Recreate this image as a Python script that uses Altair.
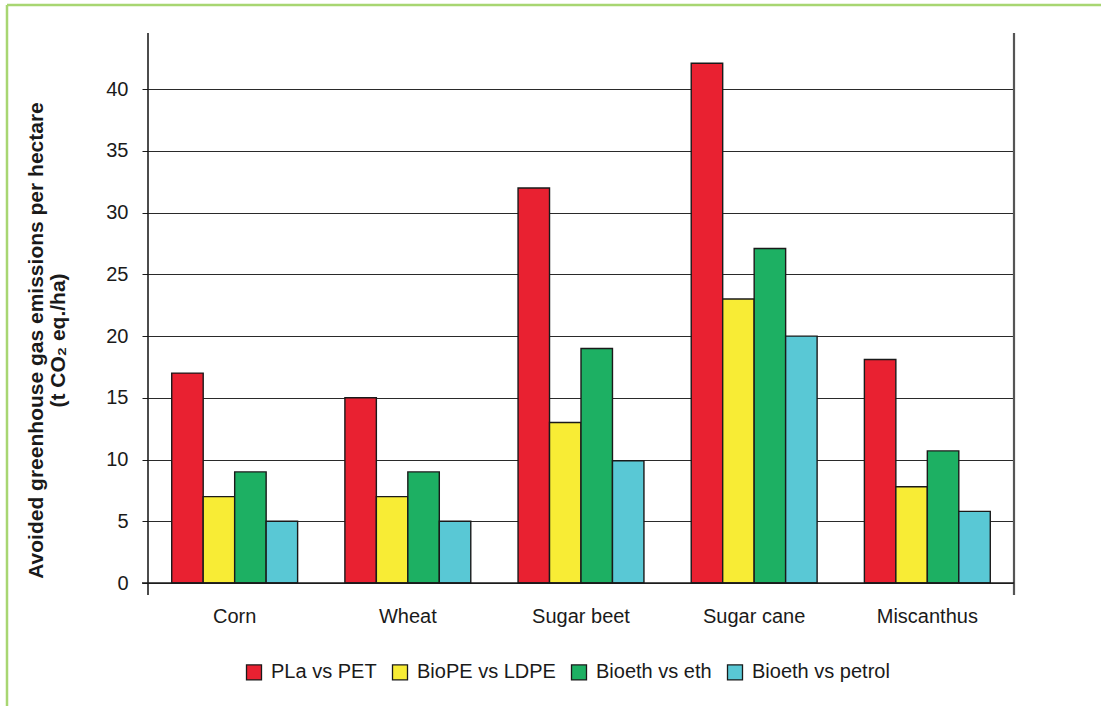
import altair as alt
import pandas as pd

# Avoided greenhouse gas emissions per hectare, by crop and substitution
categories = ["Corn", "Wheat", "Sugar beet", "Sugar cane", "Miscanthus"]
series = ["PLa vs PET", "BioPE vs LDPE", "Bioeth vs eth", "Bioeth vs petrol"]
pla_vs_pet = [17, 15, 32, 42.1, 18.1]
biope_vs_ldpe = [7, 7, 13, 23, 7.8]
bioeth_vs_eth = [9, 9, 19, 27.1, 10.7]
bioeth_vs_petrol = [5, 5, 9.9, 20, 5.8]
colors = ["#e92131", "#f8ec35", "#1db063", "#59c8d5"]
y_ticks = [0, 5, 10, 15, 20, 25, 30, 35, 40]

rows = []
for s, vals in zip(series, [pla_vs_pet, biope_vs_ldpe, bioeth_vs_eth, bioeth_vs_petrol]):
    for c, v in zip(categories, vals):
        rows.append({"crop": c, "comparison": s, "value": v})
df = pd.DataFrame(rows)

W, H = 866, 550
FONT = "Liberation Sans"
one = pd.DataFrame({"k": [0]})

bars = alt.Chart(df).mark_bar(stroke="#1a1a1a", strokeWidth=1.4).encode(
    x=alt.X("crop:N", sort=categories,
            scale=alt.Scale(paddingInner=0.273, paddingOuter=0.137),
            axis=alt.Axis(title=None, labelAngle=0, ticks=False, domain=False,
                          labelFontSize=20, labelFont=FONT, labelColor="#1a1a1a",
                          labelPadding=23)),
    xOffset=alt.XOffset("comparison:N", sort=series,
                        scale=alt.Scale(paddingInner=0, paddingOuter=0)),
    y=alt.Y("value:Q",
            scale=alt.Scale(domain=[0, 44.55], nice=False, zero=True),
            axis=alt.Axis(values=y_ticks, title=["Avoided greenhouse gas emissions per hectare",
                                                 "(t CO\u2082 eq./ha)"],
                          titleFont=FONT, titleFontSize=21, titleFontWeight="bold",
                          titleColor="#1a1a1a", titleLineHeight=22,
                          titleAngle=-90, titleX=-123, titleY=307,
                          titleBaseline="top", titleAlign="center",
                          labelFont=FONT, labelFontSize=20, labelColor="#1a1a1a",
                          labelPadding=14, tickSize=6, tickColor="#1a1a1a",
                          domain=False, grid=True, gridColor="#2a2a2a", gridWidth=1.2)),
    color=alt.Color("comparison:N", sort=series,
                    scale=alt.Scale(domain=series, range=colors),
                    legend=alt.Legend(title=None, orient="none", direction="horizontal",
                                      columns=4, legendX=96, legendY=629,
                                      symbolType="square", symbolSize=225,
                                      symbolStrokeColor="#1a1a1a", symbolStrokeWidth=1.3,
                                      labelFont=FONT, labelFontSize=20, labelColor="#1a1a1a",
                                      labelOffset=7, columnPadding=12, labelLimit=400)),
)

# y axis line, extending a little below the baseline
y_axis_line = alt.Chart(one).mark_rule(color="#111", strokeWidth=1.5).encode(
    x=alt.value(0), y=alt.value(0), y2=alt.value(H + 12))
# right border of the plot area
right_line = alt.Chart(one).mark_rule(color="#555", strokeWidth=2.2).encode(
    x=alt.value(W), y=alt.value(0), y2=alt.value(H + 12))
# baseline
base_line = alt.Chart(one).mark_rule(color="#1a1a1a", strokeWidth=1.5).encode(
    x=alt.value(-6), x2=alt.value(W), y=alt.value(H))
# green frame around the figure
frame_top = alt.Chart(one).mark_rule(color="#a8d672", strokeWidth=2.5).encode(
    x=alt.value(-141), x2=alt.value(1101 - 148), y=alt.value(-28))
frame_left = alt.Chart(one).mark_rule(color="#a8d672", strokeWidth=2.5).encode(
    x=alt.value(-141), y=alt.value(-28), y2=alt.value(706 - 33))

chart = alt.layer(bars, y_axis_line, right_line, base_line, frame_top, frame_left).properties(
    width=W, height=H,
    autosize=alt.AutoSizeParams(type="none"),
    padding={"left": 148, "top": 33, "right": 1101 - 148 - W, "bottom": 706 - 33 - H},
    background="white",
).configure_view(stroke=None)

chart.save("out.html", embed_options={"renderer": "svg", "actions": False})
